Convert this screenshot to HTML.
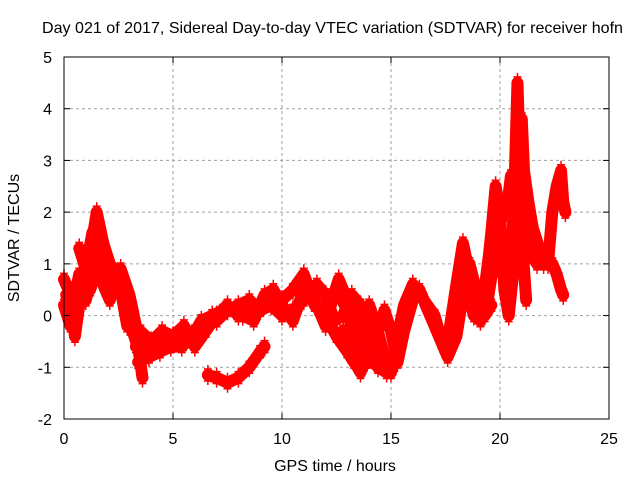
<!DOCTYPE html>
<html><head><meta charset="utf-8"><style>
body{margin:0;background:#fff}
svg{display:block;font-family:"Liberation Sans",sans-serif}
</style></head><body>
<svg id="chart" width="640" height="480">
<rect width="640" height="480" fill="#fff"/>
<g id="grid"></g>
<g id="series"></g>
<rect x="64" y="57" width="545" height="362" fill="none" stroke="#000" stroke-width="1"/>
<g id="ticks"></g>
<text x="42" y="33" font-size="16" textLength="581" lengthAdjust="spacingAndGlyphs">Day 021 of 2017, Sidereal Day-to-day VTEC variation (SDTVAR) for receiver hofn</text>
<text x="335" y="471" font-size="16" text-anchor="middle">GPS time / hours</text>
<text x="0" y="0" font-size="16" text-anchor="middle" transform="translate(19,238) rotate(-90)">SDTVAR / TECUs</text>
</svg>
<script>
const xTicks=[0,5,10,15,20,25];
const yTicks=[-2,-1,0,1,2,3,4,5];
const track1=[[0,0.7],[0.2,0.5],[0.4,0],[0.5,-0.4],[0.7,0.2],[0.9,0.8],[1.2,1.2],[1.5,2.0],[1.8,1.4],[2.1,1.0],[2.4,0.8],[2.8,0.6],[3.1,0.2],[3.3,-0.3],[3.5,-0.9],[3.6,-1.2]];
const track2=[[0,0.2],[0.3,-0.2],[0.6,0.4],[0.9,0.6],[1.2,0.5],[1.5,0.9],[1.8,0.6],[2.1,0.3],[2.4,0.8],[2.7,0.3],[3.0,-0.1],[3.3,-0.5]];
const track3=[[0.7,1.3],[1.0,0.9],[1.3,1.6],[1.6,1.5],[1.9,0.5],[2.2,0.9],[2.6,0.9],[3.0,0.4],[3.3,-0.2]];
const track4=[[3.3,-0.6],[3.8,-0.6],[4.3,-0.5],[4.8,-0.5],[5.2,-0.4],[5.6,-0.5],[6.0,-0.3],[6.5,-0.2],[7.0,-0.1],[7.5,0.1],[8.0,0.2],[8.5,0.3],[9.0,0.1],[9.5,0.2],[10.0,0.0],[10.5,0.1],[11.0,0.3]];
const track5=[[3.4,-0.9],[3.9,-0.8],[4.4,-0.7],[4.9,-0.6],[5.4,-0.6],[5.9,-0.4],[6.3,-0.1],[6.8,0.0],[7.3,0.1],[7.8,0.1],[8.2,0.0],[8.7,-0.1],[9.2,0.4],[9.6,0.5],[10.0,0.2]];
const track6=[[6.6,-1.15],[7.0,-1.2],[7.5,-1.3],[8.0,-1.2],[8.5,-1.0],[9.0,-0.7],[9.2,-0.6]];
const track7=[[9.5,0.4],[10,0.2],[10.5,-0.1],[11,0.5],[11.5,0.3],[12,-0.2],[12.3,0.3],[12.6,0.7],[13,0.3],[13.3,-0.2],[13.6,-0.6],[13.9,-0.9],[14.2,-0.5],[14.5,-0.2],[14.7,0.1],[15.0,-0.3],[15.3,-0.9],[15.6,-0.3],[16,0.3],[16.3,0.5],[16.6,0.2],[17,-0.2],[17.3,-0.5],[17.6,-0.8],[18,-0.4],[18.3,0.4],[18.6,1.0],[18.9,0.5],[19.2,0.1]];
const track8=[[10,0.3],[10.5,0.5],[11,0.8],[11.5,0.2],[12,0.0],[12.5,-0.4],[13,-0.7],[13.3,-0.9],[13.6,-0.3],[14,0.2],[14.4,-0.3],[14.7,-0.8],[15,-1.1],[15.3,-0.4],[15.6,0.2],[16,0.6],[16.4,0.4],[16.8,0.0],[17.2,-0.3],[17.6,-0.5],[18,0.6],[18.3,1.4],[18.6,0.8],[19,0.3],[19.3,0.0],[19.6,0.2]];
const track9=[[12.5,0.5],[13,0.1],[13.4,-0.6],[13.7,-1.0],[14,-0.8],[14.4,-1.0],[14.8,-1.1],[15.1,-0.8],[15.4,-0.5]];
const track10=[[12.8,-0.3],[13.2,-0.8],[13.6,-1.1]];
const track11=[[19.2,0.2],[19.5,1.2],[19.6,1.6],[19.8,2.5],[20,2.0],[20.2,0.5],[20.4,0.0],[20.6,0.8],[20.8,2.8],[20.9,3.5],[21,3.8],[21.1,2.8],[21.3,2.2],[21.5,1.7],[21.8,1.3],[22.1,1.1],[22.4,1.0],[22.6,0.8],[22.8,0.5],[22.9,0.4]];
const track12=[[19.3,0.4],[19.6,0.8],[19.9,1.5],[20.1,1.0],[20.3,0.3],[20.5,0.6],[20.7,3.0],[20.8,4.5],[20.9,3.2],[21.0,1.5],[21.2,0.3]];
const track13=[[22.2,1.0],[22.4,2.0],[22.6,2.5],[22.8,2.8],[22.9,2.2],[23,2.0]];
const track14=[[20.3,2.0],[20.5,2.7],[20.7,2.0],[20.9,2.2],[21.1,1.6],[21.4,1.2],[21.7,1.0],[22,1.0]];
const track15=[[3.5,-0.3],[4.0,-0.5],[4.5,-0.3],[5.0,-0.4],[5.5,-0.2],[6.0,-0.6],[6.5,-0.3],[7.0,0.0],[7.5,0.2],[8.0,0.0],[8.5,0.1]];
const track16=[[0.1,0.4],[0.4,0.2],[0.7,0.8],[1.0,0.3],[1.3,0.8],[1.6,1.1],[2.0,0.7],[2.3,0.5],[2.6,0.5],[2.9,-0.2]];
const track17=[[10.8,0.6],[11.2,0.5],[11.6,0.6],[12.0,0.4],[12.4,-0.1],[12.8,0.0],[13.2,0.4],[13.6,0.2],[13.9,-0.3],[14.3,-0.7]];
const track18=[[16.5,0.3],[17.0,0.0],[17.4,-0.6],[17.8,-0.2],[18.2,0.8],[18.5,0.5],[18.8,0.0],[19.1,-0.1],[19.4,0.2],[19.7,1.0]];
const tracks=[track1,track2,track3,track4,track5,track6,track7,track8,track9,track10,track11,track12,track13,track14,track15,track16,track17,track18];

const NS="http://www.w3.org/2000/svg";
const L=64,R=609,T=57,B=419;
const xs=v=>L+(v-0)/(25-0)*(R-L);
const ys=v=>B-(v+2)/(7)*(B-T);
function mk(tag,attrs,parent){const e=document.createElementNS(NS,tag);for(const k in attrs)e.setAttribute(k,attrs[k]);parent.appendChild(e);return e;}
const grid=document.getElementById('grid'),ticks=document.getElementById('ticks'),series=document.getElementById('series'),svg=document.getElementById('chart');
xTicks.forEach(v=>{
  const x=xs(v);
  if(v>0&&v<25){const g=mk('line',{x1:x,x2:x,y1:T,y2:B,stroke:'#a0a0a0','stroke-dasharray':'3,3'},grid);
  
  }
  mk('line',{x1:x,x2:x,y1:B,y2:B-6,stroke:'#000'},ticks);
  mk('line',{x1:x,x2:x,y1:T,y2:T+6,stroke:'#000'},ticks);
  const t=mk('text',{x:x,y:B+25,'font-size':16,'text-anchor':'middle'},svg);t.textContent=v;
  
  
});
yTicks.forEach(v=>{
  const y=ys(v);
  if(v>-2&&v<5){const g=mk('line',{x1:L,x2:R,y1:y,y2:y,stroke:'#a0a0a0','stroke-dasharray':'3,3'},grid);
  
  }
  mk('line',{x1:L,x2:L+6,y1:y,y2:y,stroke:'#000'},ticks);
  mk('line',{x1:R,x2:R-6,y1:y,y2:y,stroke:'#000'},ticks);
  const t=mk('text',{x:L-12,y:y+6,'font-size':16,'text-anchor':'end'},svg);t.textContent=v;
  
  
});
tracks.forEach((tr,i)=>{
  const pl=mk('polyline',{points:tr.map(p=>xs(p[0])+','+ys(p[1])).join(' '),fill:'none',stroke:'#ff0000','stroke-width':12,'stroke-linejoin':'round','stroke-linecap':'round'},series);
  
  
  tr.forEach(p=>{
    const x=xs(p[0]),y=ys(p[1]);
    const m=mk('path',{d:`M${x-4},${y-6}H${x+4}M${x},${y-10}V${y-2}M${x-4},${y+6}H${x+4}M${x},${y+2}V${y+10}`,stroke:'#ff0000','stroke-width':1.5},series);
    
    
  });
});
</script>
</body></html>
